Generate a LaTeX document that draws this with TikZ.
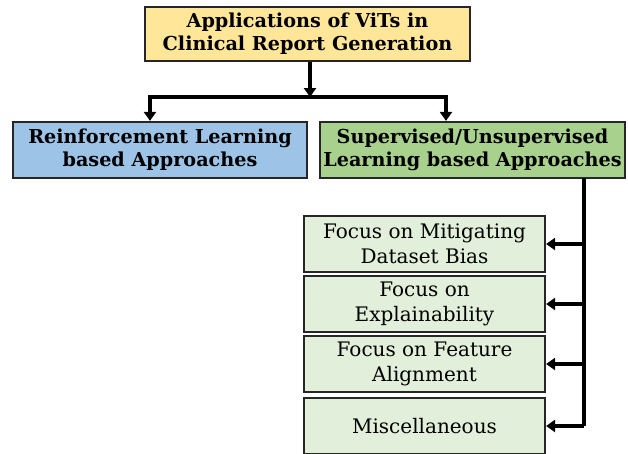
\documentclass[tikz,border=0pt]{standalone}
\usepackage{fontspec}
\setmainfont{DejaVu Serif}
\usetikzlibrary{arrows.meta}
\definecolor{topfill}{HTML}{FFE699}
\definecolor{bluefill}{HTML}{9DC3E6}
\definecolor{greenfill}{HTML}{A9D18E}
\definecolor{subfill}{HTML}{E2EFDA}
\definecolor{edge}{HTML}{262626}
\begin{document}
\begin{tikzpicture}[x=1pt,y=-1pt,
  box/.style={draw=edge, line width=2.2pt, align=center, inner sep=0pt},
  headbox/.style={box, font=\bfseries\fontsize{19.2}{23}\selectfont},
  subbox/.style={box, fill=subfill, minimum width=241pt, minimum height=56pt, font=\fontsize{20}{24.5}\selectfont},
  conn/.style={line width=3.3pt, black},
  arr/.style={conn, -{Triangle[length=9pt,width=12pt]}}
]
\useasboundingbox (0,0) rectangle (628,453);
\node[headbox, fill=topfill, minimum width=325pt, minimum height=54pt] (top) at (307.5,34) {Applications of ViTs in\\Clinical Report Generation};
\node[headbox, fill=bluefill, minimum width=294pt, minimum height=56pt] (rl) at (160,150) {Reinforcement Learning\\based Approaches};
\node[headbox, fill=greenfill, minimum width=305pt, minimum height=56pt] (sl) at (472.5,150) {Supervised/Unsupervised\\Learning based Approaches};
\node[subbox] (s1) at (424.5,244) {Focus on Mitigating\\Dataset Bias};
\node[subbox] (s2) at (424.5,304) {Focus on\\Explainability};
\node[subbox] (s3) at (424.5,364) {Focus on Feature\\Alignment};
\node[subbox] (s4) at (424.5,426) {Miscellaneous};
\coordinate (bar) at (310,97);
\coordinate (barL) at (150,97);
\coordinate (barR) at (446,97);
\coordinate (spine) at (584,178);
\coordinate (spineEnd) at (584,426);
\draw[arr] (top.south -| bar) -- (bar);
\draw[conn, line cap=rect] (barL) -- (barR);
\draw[arr] (barL) -- (barL |- rl.north);
\draw[arr] (barR) -- (barR |- sl.north);
\draw[conn] (spine) -- (spineEnd);
\draw[arr] (spine |- s1) -- (s1.east);
\draw[arr] (spine |- s2) -- (s2.east);
\draw[arr] (spine |- s3) -- (s3.east);
\draw[arr] (spineEnd) -- (s4.east);
\end{tikzpicture}
\end{document}
